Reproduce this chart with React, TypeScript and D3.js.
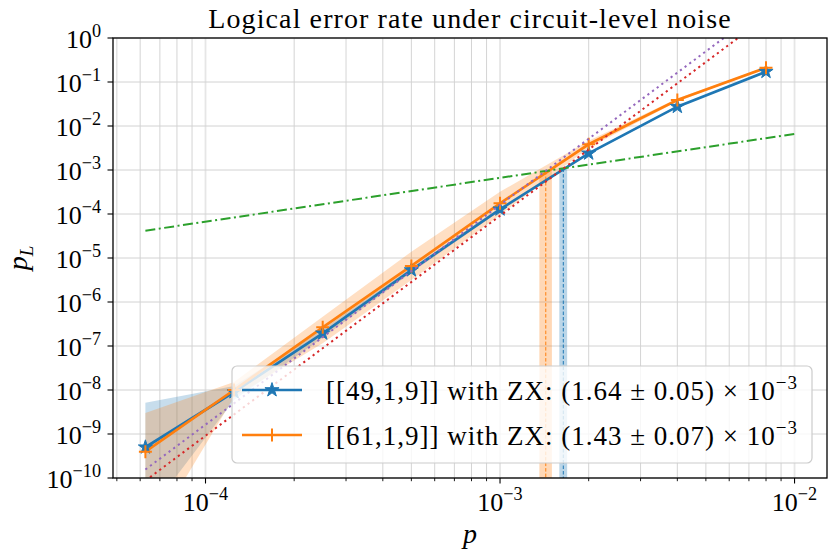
import * as d3 from "d3";

// physical error rates sampled
const pValues = [6.25e-5, 1.25e-4, 2.5e-4, 5e-4, 1e-3, 2e-3, 4e-3, 8e-3];

// [[49,1,9]] with ZX
const blueRates = [5.0e-10, 9.0e-9, 1.94e-7, 5.3e-6, 1.28e-4, 2.39e-3, 2.75e-2, 0.172];
const blueUpper = [5.1e-9, 1.23e-8, 2.4e-7, 6.0e-6, 1.4e-4, 2.5e-3, 2.85e-2, 0.176];
const blueLower = [1.3e-11, 5.9e-9, 1.55e-7, 4.7e-6, 1.17e-4, 2.28e-3, 2.65e-2, 0.168];

// [[61,1,9]] with ZX
const orangeRates = [3.96e-10, 1.0e-8, 2.66e-7, 6.6e-6, 1.75e-4, 3.84e-3, 3.9e-2, 0.211];
const orangeUpper = [3.0e-9, 1.52e-8, 4.63e-7, 1.39e-5, 3.2e-4, 4.6e-3, 4.2e-2, 0.218];
const orangeLower = [3e-12, 6.9e-9, 1.15e-7, 3.16e-6, 9.5e-5, 3.2e-3, 3.6e-2, 0.204];

// reference lines (end points)
const breakEvenP = [6.25e-5, 1e-2];
const breakEvenRates = [4.18e-5, 6.6e-3];
const fitP = [6.25e-5, 7e-3];
const blueFitRates = [8.7e-11, 1.53];
const orangeFitRates = [1.56e-10, 2.67];

// thresholds
const thresholds = [1.64e-3, 1.43e-3];
const thresholdErrors = [0.05e-3, 0.07e-3];
const thresholdRates = [1.08e-3, 0.944e-3];

const legendLabels = ["[[49,1,9]] with ZX: (1.64 \u00b1 0.05) \u00d7 10", "[[61,1,9]] with ZX: (1.43 \u00b1 0.07) \u00d7 10"];
const legendExps = ["\u22123", "\u22123"];

const xTickExps = [-4, -3, -2];
const yTickExps = [0, -1, -2, -3, -4, -5, -6, -7, -8, -9, -10];

const W = 830;
const H = 554;
const margin = { top: 38, right: 3, bottom: 76, left: 113 };
const FONT = "'Liberation Serif', 'Times New Roman', serif";

const BLUE = "#1f77b4";
const ORANGE = "#ff7f0e";
const GREEN = "#2ca02c";
const RED = "#d62728";
const PURPLE = "#9467bd";

function Pow10({ x, y, exp, size, anchor }: { x: number; y: number; exp: string; size: number; anchor: string }) {
  return (
    <text x={x} y={y} fontSize={size} textAnchor={anchor} fontFamily={FONT} fill="#000">
      <tspan>10</tspan>
      <tspan dy={-size * 0.42} fontSize={size * 0.7}>{exp}</tspan>
    </text>
  );
}

export default function App() {
  const x = d3
    .scaleLog()
    .domain([Math.pow(10, -4.3141), Math.pow(10, -1.8898)])
    .range([margin.left, W - margin.right]);
  const y = d3
    .scaleLog()
    .domain([1e-10, 1])
    .range([H - margin.bottom, margin.top]);

  const x0 = margin.left;
  const x1 = W - margin.right;
  const y0 = H - margin.bottom;
  const y1 = margin.top;

  const line = d3
    .line<[number, number]>()
    .x((d) => x(d[0]))
    .y((d) => y(d[1]));

  const area = d3
    .area<[number, number, number]>()
    .x((d) => x(d[0]))
    .y0((d) => y(d[1]))
    .y1((d) => y(d[2]));

  const zip = (ps: number[], vs: number[]) => ps.map((p, i) => [p, vs[i]] as [number, number]);
  const band = (lo: number[], hi: number[]) =>
    pValues.map((p, i) => [p, lo[i], hi[i]] as [number, number, number]);

  const minorTicks: number[] = [];
  for (let e = -5; e <= -2; e++) {
    for (let m = 2; m <= 9; m++) {
      const v = m * Math.pow(10, e);
      if (x(v) >= x0 && x(v) <= x1) minorTicks.push(v);
    }
  }
  const majorTicks = xTickExps.map((e) => Math.pow(10, e));

  const star = d3.symbol(d3.symbolStar, 62)() as string;
  const plus = "M-6.5,0H6.5M0,-6.5V6.5";
  const thColors = [BLUE, ORANGE];

  return (
    <svg width={W} height={H} style={{ position: "absolute", left: 0, top: 0, background: "#fff" }}>
      <defs>
        <clipPath id="plot">
          <rect x={x0} y={y1} width={x1 - x0} height={y0 - y1} />
        </clipPath>
      </defs>
      <rect width={W} height={H} fill="#fff" />

      {/* grid */}
      <g>
        {minorTicks.map((v) => (
          <line key={"mg" + v} x1={x(v)} x2={x(v)} y1={y1} y2={y0} stroke="#cfcfcf" strokeWidth={0.9} />
        ))}
        {majorTicks.map((v) => (
          <line key={"Mg" + v} x1={x(v)} x2={x(v)} y1={y1} y2={y0} stroke="#e6e6e6" strokeWidth={1.8} />
        ))}
        {yTickExps.map((e) => (
          <line key={"yg" + e} x1={x0} x2={x1} y1={y(Math.pow(10, e))} y2={y(Math.pow(10, e))} stroke="#d2d2d2" strokeWidth={1} />
        ))}
      </g>

      <g clipPath="url(#plot)">
        {/* threshold bands */}
        {thresholds.map((t, i) => {
          const left = x(t - thresholdErrors[i]);
          const right = x(t + thresholdErrors[i]);
          const top = y(thresholdRates[i]);
          return (
            <g key={"th" + i}>
              <rect x={left} y={top} width={right - left} height={y0 - top} fill={thColors[i]} fillOpacity={0.3} />
              <line x1={x(t)} x2={x(t)} y1={top} y2={y0} stroke={thColors[i]} strokeWidth={1} strokeDasharray="3.5,2" />
            </g>
          );
        })}

        {/* confidence bands */}
        <path d={area(band(blueLower, blueUpper)) as string} fill={BLUE} fillOpacity={0.25} />
        <path d={area(band(orangeLower, orangeUpper)) as string} fill={ORANGE} fillOpacity={0.25} />

        {/* data */}
        <path d={line(zip(pValues, blueRates)) as string} fill="none" stroke={BLUE} strokeWidth={2.7} />
        <path d={line(zip(pValues, orangeRates)) as string} fill="none" stroke={ORANGE} strokeWidth={2.7} />
        {pValues.map((p, i) => (
          <path key={"s" + i} d={star} transform={`translate(${x(p)},${y(blueRates[i])})`} fill={BLUE} stroke={BLUE} strokeWidth={1} />
        ))}
        {pValues.map((p, i) => (
          <path key={"c" + i} d={plus} transform={`translate(${x(p)},${y(orangeRates[i])})`} stroke={ORANGE} strokeWidth={2} />
        ))}

        {/* reference lines */}
        <path d={line(zip(breakEvenP, breakEvenRates)) as string} fill="none" stroke={GREEN} strokeWidth={2} strokeDasharray="10,3.5,2,3.5" />
        <path d={line(zip(fitP, blueFitRates)) as string} fill="none" stroke={RED} strokeWidth={2} strokeDasharray="2.2,3.6" />
        <path d={line(zip(fitP, orangeFitRates)) as string} fill="none" stroke={PURPLE} strokeWidth={2} strokeDasharray="2.2,3.6" />
      </g>

      {/* spines */}
      <rect x={x0} y={y1} width={x1 - x0} height={y0 - y1} fill="none" stroke="#000" strokeWidth={1.3} />

      {/* x ticks */}
      {minorTicks.map((v) => (
        <line key={"mt" + v} x1={x(v)} x2={x(v)} y1={y0} y2={y0 + 3.2} stroke="#000" strokeWidth={0.9} />
      ))}
      {majorTicks.map((v, i) => (
        <g key={"xt" + v}>
          <line x1={x(v)} x2={x(v)} y1={y0} y2={y0 + 5.5} stroke="#000" strokeWidth={1.1} />
          <Pow10 x={x(v)} y={511} exp={"\u2212" + -xTickExps[i]} size={26} anchor="middle" />
        </g>
      ))}

      {/* y ticks */}
      {yTickExps.map((e) => {
        const yy = y(Math.pow(10, e));
        return (
          <g key={"yt" + e}>
            <line x1={x0 - 5.5} x2={x0} y1={yy} y2={yy} stroke="#000" strokeWidth={1.1} />
            <Pow10 x={101} y={yy + 10} exp={e === 0 ? "0" : "\u2212" + -e} size={26} anchor="end" />
          </g>
        );
      })}

      {/* labels */}
      <text x={(x0 + x1) / 2} y={28} textAnchor="middle" fontSize={28} letterSpacing={1.1} fontFamily={FONT}>
        Logical error rate under circuit-level noise
      </text>
      <text x={(x0 + x1) / 2} y={543} textAnchor="middle" fontSize={28} fontFamily={FONT} fontStyle="italic">
        p
      </text>
      <text transform={`translate(27,${(y0 + y1) / 2}) rotate(-90)`} textAnchor="middle" fontSize={28} fontFamily={FONT} fontStyle="italic">
        p<tspan dy={6} fontSize={19}>L</tspan>
      </text>

      {/* legend */}
      <g>
        <rect x={232} y={366} width={580} height={97} rx={5} fill="#fff" fillOpacity={0.8} stroke="#cccccc" strokeWidth={1.2} />
        {[BLUE, ORANGE].map((c, i) => {
          const ly = 390 + i * 45;
          return (
            <g key={"lg" + i}>
              <line x1={242} x2={302} y1={ly} y2={ly} stroke={c} strokeWidth={2.7} />
              {i === 0 ? (
                <path d={star} transform={`translate(272,${ly})`} fill={BLUE} stroke={BLUE} strokeWidth={1} />
              ) : (
                <path d={plus} transform={`translate(272,${ly})`} stroke={ORANGE} strokeWidth={2} />
              )}
              <text x={326} y={ly + 10} fontSize={27} letterSpacing={1} fontFamily={FONT}>
                <tspan>{legendLabels[i]}</tspan>
                <tspan dy={-11} fontSize={19}>{legendExps[i]}</tspan>
              </text>
            </g>
          );
        })}
      </g>
    </svg>
  );
}
